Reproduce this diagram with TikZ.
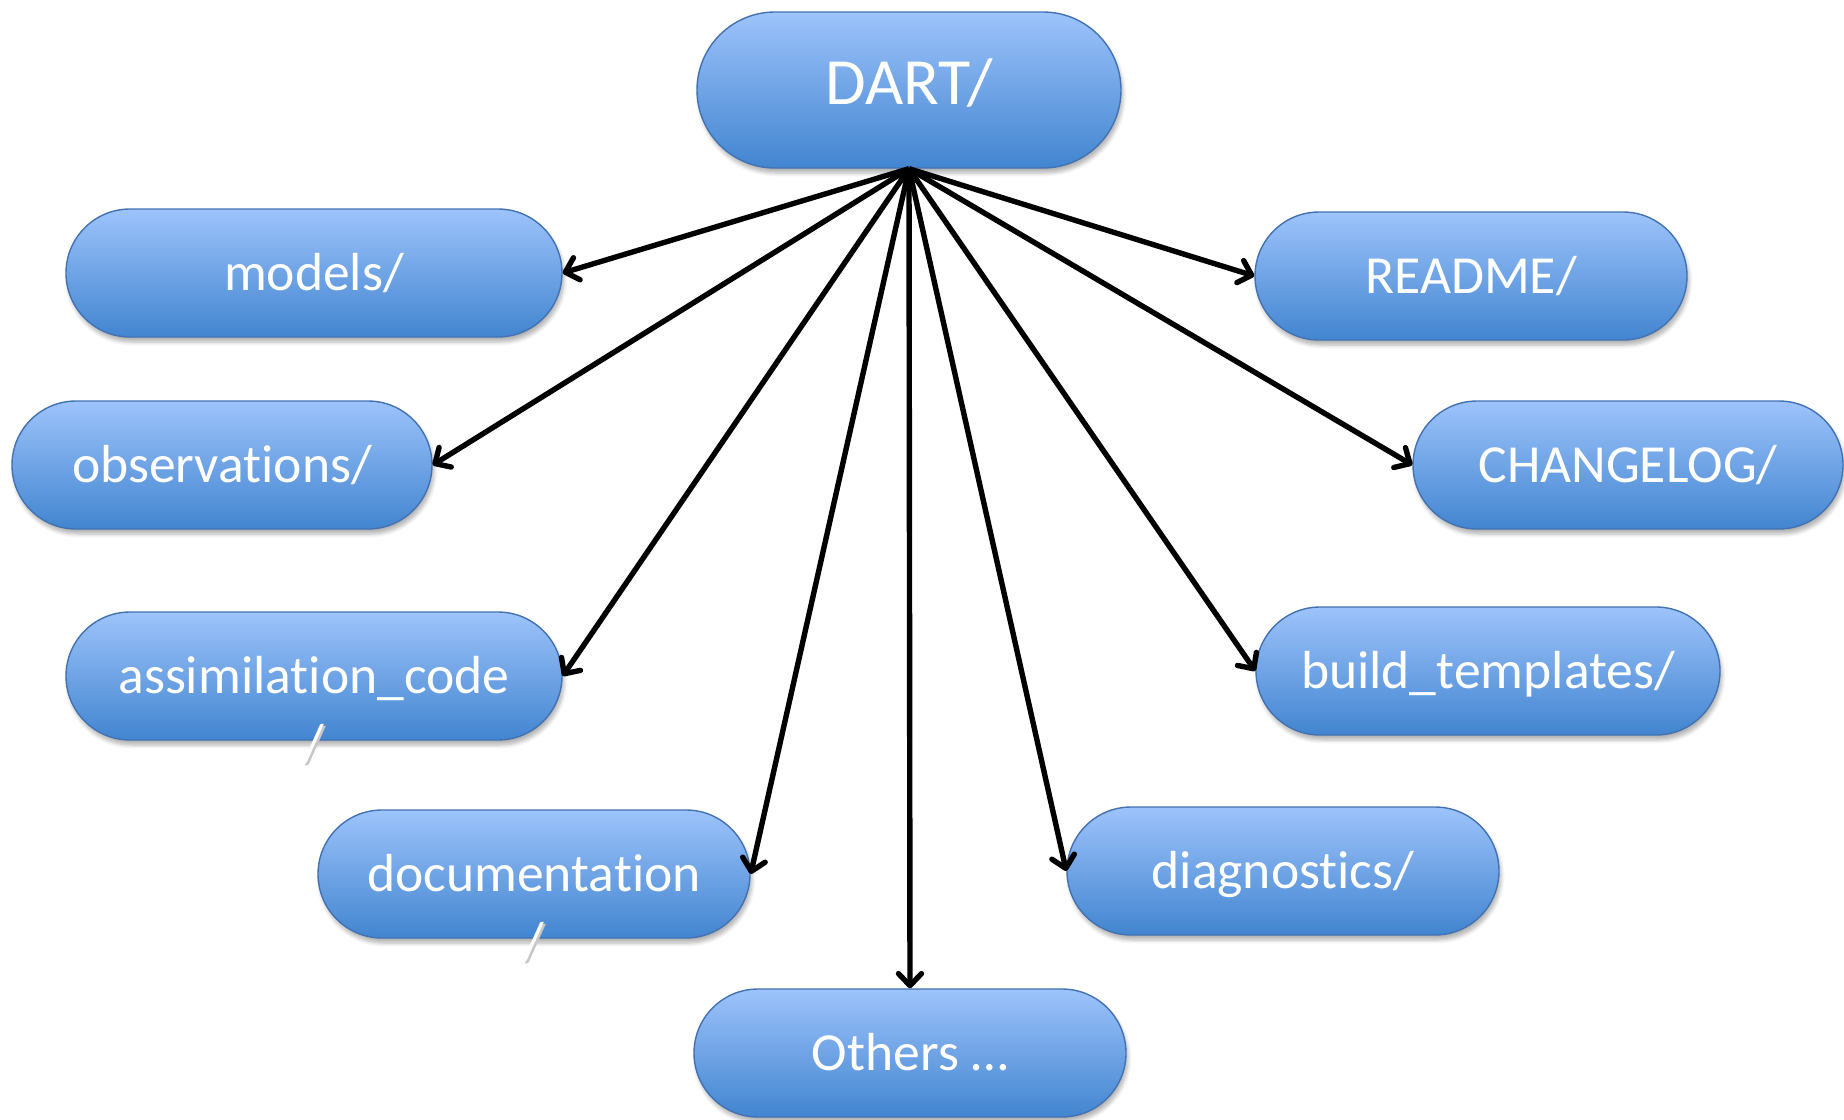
\documentclass[tikz,border=0pt]{standalone}
\usepackage{fontspec}
\setmainfont{Carlito}[Ligatures={NoCommon}]
\usetikzlibrary{positioning,arrows.meta,shadows.blur}
\tikzset{>={Straight Barb[length=6pt,width=11.5pt,round]}}
\definecolor{dirtop}{RGB}{157,195,251}
\definecolor{dirbot}{RGB}{66,133,208}
\definecolor{dirline}{RGB}{66,114,178}
\tikzset{
  dirbox/.style={rectangle,rounded corners=32pt,draw=dirline,line width=0.7pt,
    top color=dirtop,bottom color=dirbot,text=white,
    minimum height=64pt,text height=21pt,text depth=4pt,
    font=\fontsize{26.8}{34}\selectfont,
    blur shadow={shadow xshift=1pt,shadow yshift=-2.5pt,shadow blur steps=6,shadow opacity=30}},
  link/.style={->,line width=2.7pt}
}
\newcommand*{\twoline}[2]{\begin{tabular}[t]{@{}c@{}}#1\\#2\end{tabular}}
\newcommand*{\shslash}{\rlap{\kern1pt\raisebox{-1.2pt}{\textcolor{black!22}{/}}}/}

\begin{document}
\begin{tikzpicture}[x=0.5pt,y=-0.5pt]
\useasboundingbox (0,0) rectangle (1844,1120);
% top directory
\node[dirbox,minimum width=212pt,minimum height=78pt,rounded corners=39pt,
  text height=18pt,font=\fontsize{33}{40}\selectfont] (dart) at (909,90) {DART/};
% left column
\node[dirbox,minimum width=248pt] (models) at (314,273) {models/};
\node[dirbox,minimum width=210pt] (obs) at (222,465) {observations/};
\node[dirbox,minimum width=248pt] (assim) at (314,676) {\twoline{assimilation\_code}{\shslash}};
\node[dirbox,minimum width=216pt] (doc) at (534,874) {\twoline{documentation}{\shslash}};
\node[dirbox,minimum width=216pt] (others) at (910,1053) {Others …};
% right column
\node[dirbox,minimum width=216pt] (diag) at (1283,871) {diagnostics/};
\node[dirbox,minimum width=232pt] (build) at (1488,671) {build\_templates/};
\node[dirbox,minimum width=215pt] (changelog) at (1628,465) {CHANGELOG/};
\node[dirbox,minimum width=216pt] (readme) at (1471,276) {README/};
\foreach \t/\a in {models/east,obs/east,assim/east,doc/east,others/north,
    diag/west,build/west,changelog/west,readme/west}
  \draw[link] (dart.south) -- (\t.\a);
\end{tikzpicture}
\end{document}
